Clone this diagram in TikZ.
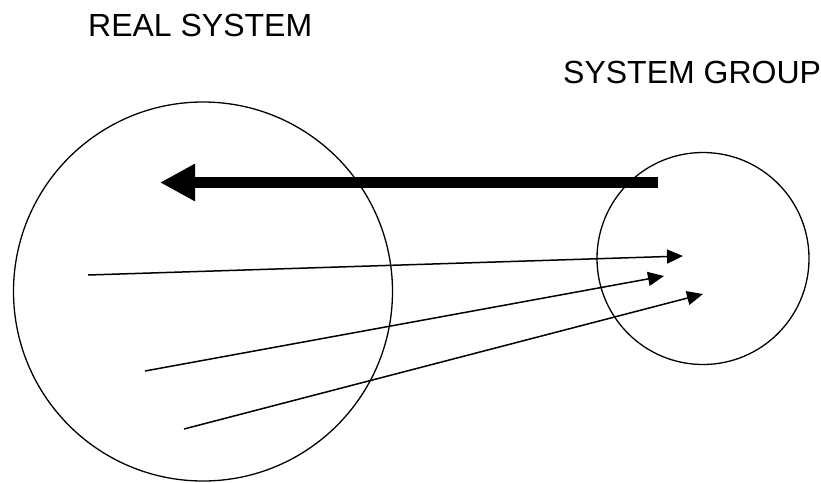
\documentclass[tikz,border=0pt]{standalone}
\usepackage{fontspec}
\setmainfont{Liberation Sans}
\usetikzlibrary{arrows.meta}

\tikzset{
  area/.style={circle, draw, line width=1.3pt, inner sep=0pt},
  label text/.style={font=\fontsize{32}{38}\selectfont, inner sep=0pt, anchor=base west},
  flow/.style={line width=1.5pt, -{Triangle[length=16pt, width=14pt]}},
  bigflow/.style={line width=11pt, -{Triangle[length=35pt, width=35pt]}},
}

\begin{document}
\begin{tikzpicture}[x=1pt, y=-1pt]
  \useasboundingbox (0,0) rectangle (821,482);

  % titles
  \node[label text] (realtitle) at (88,36) {REAL SYSTEM};
  \node[label text] (grouptitle) at (563,83) {SYSTEM GROUP};

  % the two systems
  \node[area, minimum size=379pt] (real) at (203,291.5) {};
  \node[area, minimum size=212pt] (group) at (703,258.5) {};

  % end points of the links
  \coordinate (bigstart) at (658,182.5);
  \coordinate (bigend) at (160,182.5);
  \coordinate (s1) at (88,275);
  \coordinate (t1) at (683,256);
  \coordinate (s2) at (145,371);
  \coordinate (t2) at (664,276);
  \coordinate (s3) at (184,429);
  \coordinate (t3) at (703,294);

  % links
  \draw[bigflow] (bigstart) -- (bigend);
  \draw[flow] (s1) -- (t1);
  \draw[flow] (s2) -- (t2);
  \draw[flow] (s3) -- (t3);
\end{tikzpicture}
\end{document}
